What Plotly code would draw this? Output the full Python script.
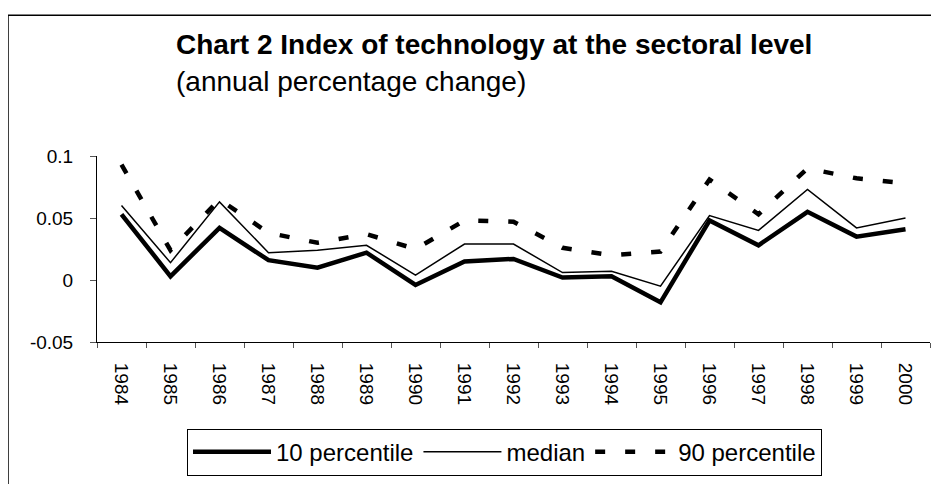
import plotly.graph_objects as go

years = ["1984", "1985", "1986", "1987", "1988", "1989", "1990", "1991", "1992",
         "1993", "1994", "1995", "1996", "1997", "1998", "1999", "2000"]
p10 = [0.053, 0.003, 0.042, 0.016, 0.010, 0.022, -0.004, 0.015, 0.017,
       0.002, 0.003, -0.018, 0.048, 0.028, 0.055, 0.035, 0.041]
median = [0.060, 0.014, 0.063, 0.022, 0.024, 0.028, 0.004, 0.029, 0.029,
          0.006, 0.007, -0.005, 0.052, 0.040, 0.073, 0.042, 0.050]
p90 = [0.093, 0.024, 0.065, 0.038, 0.030, 0.037, 0.025, 0.048, 0.047,
       0.026, 0.020, 0.023, 0.081, 0.053, 0.090, 0.082, 0.078]
ytick_vals = [-0.05, 0, 0.05, 0.1]
ytick_text = ["-0.05", "0", "0.05", "0.1"]

# the page body has an 8px margin, so the figure starts at (8, 8) in the window
OFF = 8
W, H = 939 - OFF, 484 - OFF
# plot area in window coordinates
L, R, T, B = 97, 930, 156, 345
FONT = "Arial, Liberation Sans, sans-serif"


def px(x):
    return (x - L) / (R - L)


def py(y):
    return (B - y) / (B - T)


fig = go.Figure()
fig.add_trace(go.Scatter(x=years, y=p10, mode="lines", name="10 percentile",
                         line=dict(color="black", width=4.5)))
fig.add_trace(go.Scatter(x=years, y=median, mode="lines", name="median",
                         line=dict(color="black", width=1.5)))
fig.add_trace(go.Scatter(x=years, y=p90, mode="lines", name="90 percentile",
                         line=dict(color="black", width=4.5, dash="10px,20px")))

fig.update_layout(
    width=W, height=H,
    margin=dict(l=L - OFF, r=W - (R - OFF), t=T - OFF, b=H - (B - OFF)),
    paper_bgcolor="white", plot_bgcolor="white",
    font=dict(family=FONT, size=19, color="black"),
    showlegend=True,
    legend=dict(orientation="h", x=px(187), xanchor="left", y=py(433), yanchor="top",
                bordercolor="black", borderwidth=1, font=dict(size=24),
                itemwidth=78, tracegroupgap=0),
    xaxis=dict(type="category", range=[-0.5, len(years) - 0.5],
               showline=True, linecolor="black", linewidth=1,
               ticks="outside", ticklen=5, tickcolor="#555", tickson="boundaries",
               tickangle=90, showgrid=False, zeroline=False,
               ticklabelstandoff=16, tickfont=dict(size=19)),
    yaxis=dict(range=[-0.05, 0.1], tickvals=ytick_vals, ticktext=ytick_text,
               showline=True, linecolor="black", linewidth=1,
               ticks="outside", ticklen=6, tickcolor="#555",
               showgrid=False, zeroline=False,
               ticklabelstandoff=13, tickfont=dict(size=19)),
    shapes=[dict(type="rect", xref="paper", yref="paper",
                 x0=px(8), x1=px(960), y0=py(13), y1=py(500),
                 line=dict(color="black", width=1.5), fillcolor="rgba(0,0,0,0)")],
    annotations=[
        dict(text="<b>Chart 2 Index of technology at the sectoral level</b>",
             xref="paper", yref="paper", x=px(174), y=py(43), xanchor="left", yanchor="middle",
             showarrow=False, font=dict(size=28)),
        dict(text="(annual percentage change)",
             xref="paper", yref="paper", x=px(174), y=py(80), xanchor="left", yanchor="middle",
             showarrow=False, font=dict(size=28)),
    ],
)

fig.write_html("out.html")
